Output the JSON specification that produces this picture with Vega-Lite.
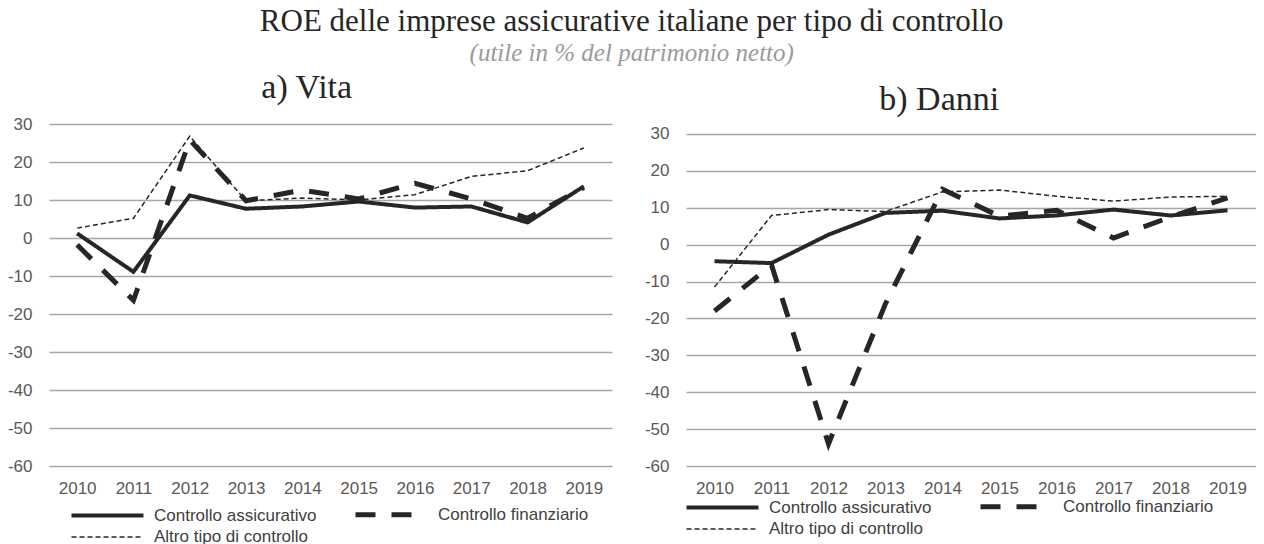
{
  "$schema": "https://vega.github.io/schema/vega-lite/v6.json",
  "padding": {"top": 6, "left": 7, "right": 0, "bottom": 0},
  "background": "white",
  "title": {
    "text": "ROE delle imprese assicurative italiane per tipo di controllo",
    "subtitle": "(utile in % del patrimonio netto)",
    "anchor": "middle",
    "font": "Liberation Serif",
    "fontSize": 31,
    "fontWeight": "normal",
    "color": "#262626",
    "subtitleFont": "Liberation Serif",
    "subtitleFontStyle": "italic",
    "subtitleFontSize": 25,
    "subtitleColor": "#9a9a9a",
    "subtitlePadding": 3,
    "offset": 4
  },
  "datasets": {
    "vita": [
      {"anno": "2010", "serie": "Controllo assicurativo", "roe": 1.2},
      {"anno": "2011", "serie": "Controllo assicurativo", "roe": -8.9},
      {"anno": "2012", "serie": "Controllo assicurativo", "roe": 11.2},
      {"anno": "2013", "serie": "Controllo assicurativo", "roe": 7.7},
      {"anno": "2014", "serie": "Controllo assicurativo", "roe": 8.3},
      {"anno": "2015", "serie": "Controllo assicurativo", "roe": 9.6},
      {"anno": "2016", "serie": "Controllo assicurativo", "roe": 8.0},
      {"anno": "2017", "serie": "Controllo assicurativo", "roe": 8.3},
      {"anno": "2018", "serie": "Controllo assicurativo", "roe": 4.1},
      {"anno": "2019", "serie": "Controllo assicurativo", "roe": 13.6},
      {"anno": "2010", "serie": "Controllo finanziario", "roe": -1.8},
      {"anno": "2011", "serie": "Controllo finanziario", "roe": -16.4},
      {"anno": "2012", "serie": "Controllo finanziario", "roe": 25.8},
      {"anno": "2013", "serie": "Controllo finanziario", "roe": 9.8},
      {"anno": "2014", "serie": "Controllo finanziario", "roe": 12.6},
      {"anno": "2015", "serie": "Controllo finanziario", "roe": 10.3},
      {"anno": "2016", "serie": "Controllo finanziario", "roe": 14.4},
      {"anno": "2017", "serie": "Controllo finanziario", "roe": 10.3},
      {"anno": "2018", "serie": "Controllo finanziario", "roe": 5.2},
      {"anno": "2019", "serie": "Controllo finanziario", "roe": 13.3},
      {"anno": "2010", "serie": "Altro tipo di controllo", "roe": 2.6},
      {"anno": "2011", "serie": "Altro tipo di controllo", "roe": 5.2},
      {"anno": "2012", "serie": "Altro tipo di controllo", "roe": 26.8},
      {"anno": "2013", "serie": "Altro tipo di controllo", "roe": 9.8},
      {"anno": "2014", "serie": "Altro tipo di controllo", "roe": 10.5},
      {"anno": "2015", "serie": "Altro tipo di controllo", "roe": 10.0},
      {"anno": "2016", "serie": "Altro tipo di controllo", "roe": 11.4},
      {"anno": "2017", "serie": "Altro tipo di controllo", "roe": 16.2},
      {"anno": "2018", "serie": "Altro tipo di controllo", "roe": 17.7},
      {"anno": "2019", "serie": "Altro tipo di controllo", "roe": 23.7}
    ],
    "danni": [
      {"anno": "2010", "serie": "Controllo assicurativo", "roe": -4.5},
      {"anno": "2011", "serie": "Controllo assicurativo", "roe": -5.0},
      {"anno": "2012", "serie": "Controllo assicurativo", "roe": 2.7},
      {"anno": "2013", "serie": "Controllo assicurativo", "roe": 8.6},
      {"anno": "2014", "serie": "Controllo assicurativo", "roe": 9.2},
      {"anno": "2015", "serie": "Controllo assicurativo", "roe": 7.1},
      {"anno": "2016", "serie": "Controllo assicurativo", "roe": 7.9},
      {"anno": "2017", "serie": "Controllo assicurativo", "roe": 9.5},
      {"anno": "2018", "serie": "Controllo assicurativo", "roe": 7.9},
      {"anno": "2019", "serie": "Controllo assicurativo", "roe": 9.3},
      {"anno": "2010", "serie": "Controllo finanziario", "roe": -18.0},
      {"anno": "2011", "serie": "Controllo finanziario", "roe": -5.5},
      {"anno": "2012", "serie": "Controllo finanziario", "roe": -54.0},
      {"anno": "2013", "serie": "Controllo finanziario", "roe": -16.0},
      {"anno": "2014", "serie": "Controllo finanziario", "roe": 15.0},
      {"anno": "2015", "serie": "Controllo finanziario", "roe": 7.7},
      {"anno": "2016", "serie": "Controllo finanziario", "roe": 9.3},
      {"anno": "2017", "serie": "Controllo finanziario", "roe": 1.8},
      {"anno": "2018", "serie": "Controllo finanziario", "roe": 7.5},
      {"anno": "2019", "serie": "Controllo finanziario", "roe": 12.7},
      {"anno": "2010", "serie": "Altro tipo di controllo", "roe": -11.5},
      {"anno": "2011", "serie": "Altro tipo di controllo", "roe": 7.9},
      {"anno": "2012", "serie": "Altro tipo di controllo", "roe": 9.5},
      {"anno": "2013", "serie": "Altro tipo di controllo", "roe": 9.0},
      {"anno": "2014", "serie": "Altro tipo di controllo", "roe": 14.3},
      {"anno": "2015", "serie": "Altro tipo di controllo", "roe": 14.8},
      {"anno": "2016", "serie": "Altro tipo di controllo", "roe": 13.1},
      {"anno": "2017", "serie": "Altro tipo di controllo", "roe": 11.8},
      {"anno": "2018", "serie": "Altro tipo di controllo", "roe": 12.9},
      {"anno": "2019", "serie": "Altro tipo di controllo", "roe": 13.1}
    ]
  },
  "spacing": 32,
  "hconcat": [
    {
      "width": 563,
      "height": 342,
      "title": {"text": "a) Vita", "anchor": "middle", "frame": "bounds", "dx": -3, "font": "Liberation Serif", "fontSize": 34, "fontWeight": "normal", "color": "#262626", "offset": 10},
      "data": {"name": "vita"},
      "mark": {"type": "line", "color": "#262626"},
      "encoding": {
        "x": {"field": "anno", "type": "ordinal", "scale": {"type": "point", "padding": 0.5}},
        "y": {"field": "roe", "type": "quantitative", "scale": {"domain": [-60, 30], "nice": false, "zero": false}, "axis": {"values": [-60, -50, -40, -30, -20, -10, 0, 10, 20, 30]}},
        "strokeDash": {"field": "serie", "type": "nominal", "scale": {"type": "ordinal", "domain": ["Controllo assicurativo", "Controllo finanziario", "Altro tipo di controllo"], "range": [[1, 0], [20, 16], [5, 3]]}, "legend": {"title": null, "orient": "none", "legendX": 47, "legendY": 379}},
        "strokeWidth": {"field": "serie", "type": "nominal", "scale": {"type": "ordinal", "domain": ["Controllo assicurativo", "Controllo finanziario", "Altro tipo di controllo"], "range": [4, 5, 1.5]}, "legend": {"title": null, "orient": "none", "legendX": 47, "legendY": 379}}
      }
    },
    {
      "width": 570,
      "height": 342,
      "title": {"text": "b) Danni", "anchor": "middle", "frame": "bounds", "dx": -11, "dy": 3, "font": "Liberation Serif", "fontSize": 34, "fontWeight": "normal", "color": "#262626", "offset": 10},
      "data": {"name": "danni"},
      "mark": {"type": "line", "color": "#262626"},
      "encoding": {
        "x": {"field": "anno", "type": "ordinal", "scale": {"type": "point", "padding": 0.5}},
        "y": {"field": "roe", "type": "quantitative", "scale": {"domain": [-60, 32.7], "nice": false, "zero": false}, "axis": {"values": [-60, -50, -40, -30, -20, -10, 0, 10, 20, 30]}},
        "strokeDash": {"field": "serie", "type": "nominal", "scale": {"type": "ordinal", "domain": ["Controllo assicurativo", "Controllo finanziario", "Altro tipo di controllo"], "range": [[1, 0], [20, 16], [5, 3]]}, "legend": {"title": null, "orient": "none", "legendX": 25, "legendY": 371, "columnPadding": 38}},
        "strokeWidth": {"field": "serie", "type": "nominal", "scale": {"type": "ordinal", "domain": ["Controllo assicurativo", "Controllo finanziario", "Altro tipo di controllo"], "range": [4, 5, 1.5]}, "legend": {"title": null, "orient": "none", "legendX": 25, "legendY": 371, "columnPadding": 38}}
      }
    }
  ],
  "resolve": {
    "scale": {"strokeDash": "independent", "strokeWidth": "independent"},
    "legend": {"strokeDash": "independent", "strokeWidth": "independent"}
  },
  "config": {
    "font": "Liberation Sans",
    "view": {"stroke": null},
    "axis": {"labelFont": "Liberation Sans", "labelFontSize": 17, "labelColor": "#595959", "domain": false, "ticks": false, "title": null},
    "axisX": {"grid": false, "labelPadding": 14, "labelAngle": 0},
    "axisY": {"grid": true, "gridColor": "#a6a6a6", "gridWidth": 1.5, "labelPadding": 17, "labelExpr": "datum.value < 0 ? '-' + abs(datum.value) : '' + datum.value"},
    "legend": {
      "direction": "horizontal",
      "columns": 2,
      "symbolType": "M-4,0H4",
      "symbolSize": 324,
      "symbolStrokeColor": "#262626",
      "labelFont": "Liberation Sans",
      "labelFontSize": 17,
      "labelColor": "#404040",
      "labelOffset": 35,
      "columnPadding": 28,
      "rowPadding": 2,
      "padding": 0,
      "labelLimit": 300
    }
  }
}
